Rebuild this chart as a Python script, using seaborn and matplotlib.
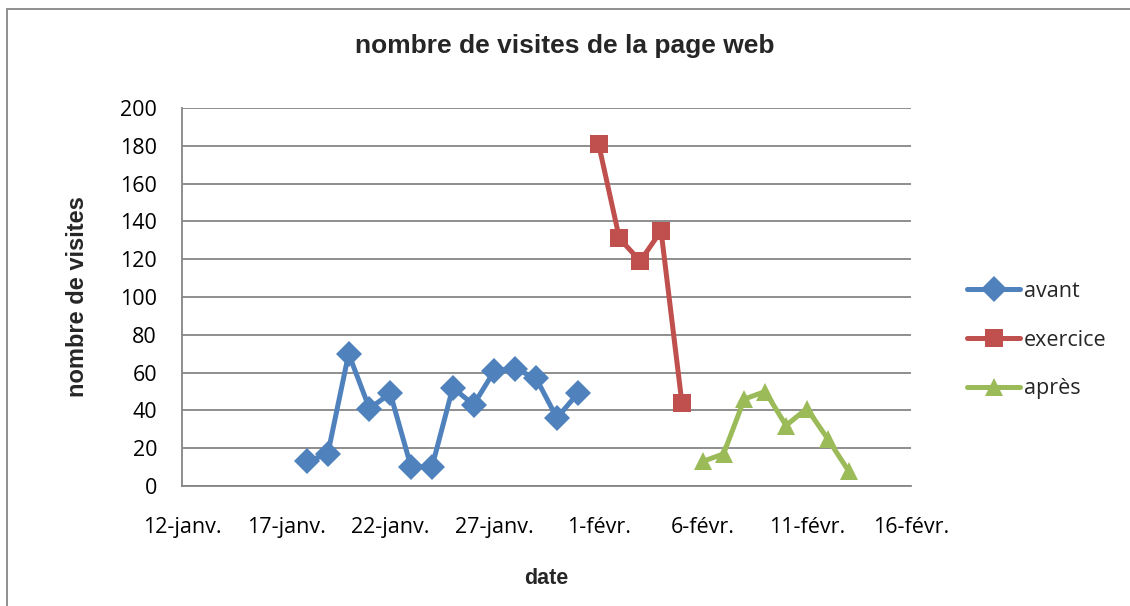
import pandas as pd
import matplotlib.pyplot as plt
from matplotlib.patches import Rectangle
import seaborn as sns

# data
avant_dates = pd.date_range('2013-01-18', '2013-01-31')
avant = [13, 17, 70, 41, 49, 10, 10, 52, 43, 61, 62, 57, 36, 49]
exercice_dates = pd.date_range('2013-02-01', '2013-02-05')
exercice = [181, 131, 119, 135, 44]
apres_dates = pd.date_range('2013-02-06', '2013-02-13')
apres = [13, 17, 46, 50, 32, 41, 25, 8]

tick_dates = pd.date_range('2013-01-12', '2013-02-16', freq='5D')
tick_labels = ['12-janv.', '17-janv.', '22-janv.', '27-janv.',
               '1-févr.', '6-févr.', '11-févr.', '16-févr.']

df = pd.concat([
    pd.DataFrame({'date': avant_dates, 'visites': avant, 'serie': 'avant'}),
    pd.DataFrame({'date': exercice_dates, 'visites': exercice, 'serie': 'exercice'}),
    pd.DataFrame({'date': apres_dates, 'visites': apres, 'serie': 'après'}),
])

sns.set_style('white')
plt.rcParams['font.family'] = ['Open Sans', 'DejaVu Sans']

palette = {'avant': '#4F81BD', 'exercice': '#C0504D', 'après': '#9BBB59'}
markers = {'avant': 'D', 'exercice': 's', 'après': '^'}

fig = plt.figure(figsize=(11.3, 6.06), dpi=100)
ax = fig.add_axes([182 / 1130, 1 - 486 / 606, (911 - 182) / 1130, (486 - 108) / 606])

sns.lineplot(data=df, x='date', y='visites', hue='serie', style='serie',
             palette=palette, markers=markers, dashes=False, linewidth=3.6,
             markersize=13.5, markeredgewidth=0, ax=ax)

ax.set_xlim(tick_dates[0], tick_dates[-1])
ax.set_ylim(0, 200)
ax.set_yticks(range(0, 201, 20))
ax.yaxis.grid(True, color='#868686', linewidth=1.3)
ax.xaxis.grid(False)
ax.set_xticks(tick_dates)
ax.set_xticklabels(tick_labels)
ax.tick_params(axis='both', labelsize=15.5, length=0, colors='black')
ax.tick_params(axis='x', pad=22)
ax.tick_params(axis='y', pad=18)
for s in ['top', 'right']:
    ax.spines[s].set_visible(False)
for s in ['left', 'bottom']:
    ax.spines[s].set_color('#868686')
    ax.spines[s].set_linewidth(1.3)

ax.set_xlabel('date', family=['Liberation Sans'], fontweight='bold', fontsize=15.5, labelpad=22)
ax.set_ylabel('nombre de visites', family=['Liberation Sans'], fontweight='bold', fontsize=17, labelpad=22)
fig.text(0.5, 1 - 46 / 606, 'nombre de visites de la page web', family=['Liberation Sans'],
         fontweight='bold', fontsize=19, ha='center', va='center')

handles, labels = ax.get_legend_handles_labels()
ax.legend(handles, labels, loc='center left', bbox_to_anchor=(958 / 1130, 1 - 340 / 606),
          bbox_transform=fig.transFigure, frameon=False, fontsize=15.5,
          handlelength=2.5, handletextpad=0.15, labelspacing=1.3, borderaxespad=0)

# chart border
fig.patches.append(Rectangle((7 / 1130, -0.1), 1.2, 1 - 9 / 606 + 0.1, transform=fig.transFigure,
                             fill=False, edgecolor='#868686', linewidth=1.3))

fig.savefig('out.png', dpi=100)
